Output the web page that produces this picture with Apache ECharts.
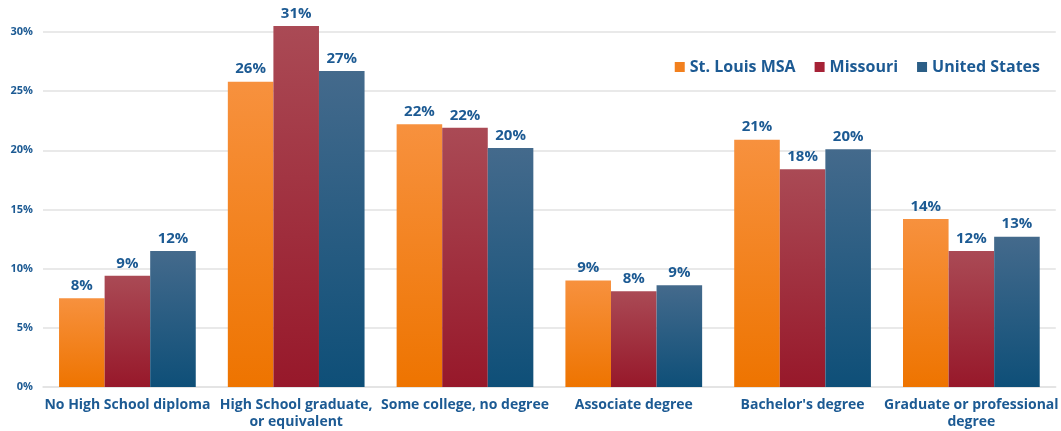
<!DOCTYPE html>
<html>
<head>
<meta charset="utf-8">
<script src="https://cdn.jsdelivr.net/npm/echarts@6/dist/echarts.min.js"></script>
<style>
  html, body { margin: 0; padding: 0; background: #ffffff; }
  #chart { width: 1061px; height: 431px; }
</style>
</head>
<body>
<div id="chart"></div>
<script>
// Educational attainment, share of population (%)
const categories = [
  'No High School diploma',
  'High School graduate,\nor equivalent',
  'Some college, no degree',
  'Associate degree',
  "Bachelor's degree",
  'Graduate or professional\ndegree'
];
const stLouis  = [7.5, 25.8, 22.2, 9.0, 20.9, 14.2];
const missouri = [9.4, 30.5, 21.9, 8.1, 18.4, 11.5];
const usa      = [11.5, 26.7, 20.2, 8.6, 20.1, 12.7];
const seriesNames = ['St. Louis MSA', 'Missouri', 'United States'];
const yTicks = [0, 5, 10, 15, 20, 25, 30];

const FONT = '"Open Sans", "Noto Sans", sans-serif';
const TEXT = '#1c5a93';

function grad(top, bottom) {
  return new echarts.graphic.LinearGradient(0, 0, 0, 1, [
    { offset: 0, color: top },
    { offset: 1, color: bottom }
  ]);
}

const palettes = [
  { top: '#f7913e', bottom: '#ee7400', legend: '#f2801e' },
  { top: '#aa4a55', bottom: '#97182a', legend: '#a62236' },
  { top: '#446a8c', bottom: '#0e4f78', legend: '#2b5e86' }
];

function makeSeries(name, data, p) {
  return {
    name: name,
    type: 'bar',
    data: data,
    clip: false,
    barGap: '0%',
    barCategoryGap: '19%',
    itemStyle: { color: grad(p.top, p.bottom) },
    label: {
      show: true,
      position: 'top',
      distance: 5,
      formatter: (v) => Math.round(v.value) + '%',
      color: TEXT,
      fontFamily: FONT,
      fontWeight: 'bold',
      fontSize: 15
    }
  };
}

const chart = echarts.init(document.getElementById('chart'), null, { renderer: 'canvas' });
chart.setOption({
  animation: false,
  backgroundColor: '#ffffff',
  color: palettes.map(p => p.legend),
  legend: {
    data: seriesNames.map((n, i) => ({ name: n, itemStyle: { color: palettes[i].legend } })),
    right: 16,
    top: 54,
    icon: 'rect',
    itemWidth: 10,
    itemHeight: 10,
    itemGap: 19,
    textStyle: {
      color: TEXT,
      fontFamily: FONT,
      fontWeight: 'bold',
      fontSize: 16
    }
  },
  grid: { left: 43, right: -2, top: 32, bottom: 41 },
  xAxis: {
    type: 'category',
    data: categories,
    axisLine: { show: true, lineStyle: { color: '#e2e2e2', width: 1.5 } },
    axisTick: { show: false },
    axisLabel: {
      interval: 0,
      margin: 10,
      color: TEXT,
      fontFamily: FONT,
      fontWeight: 'bold',
      fontSize: 14,
      lineHeight: 17
    }
  },
  yAxis: {
    type: 'value',
    min: yTicks[0],
    max: yTicks[yTicks.length - 1],
    interval: 5,
    axisLine: { show: false },
    axisTick: { show: false },
    splitLine: { lineStyle: { color: '#e2e2e2', width: 1.5 } },
    axisLabel: {
      margin: 10,
      formatter: '{value}%',
      color: TEXT,
      fontFamily: FONT,
      fontWeight: 'bold',
      fontSize: 11
    }
  },
  series: [
    makeSeries(seriesNames[0], stLouis, palettes[0]),
    makeSeries(seriesNames[1], missouri, palettes[1]),
    makeSeries(seriesNames[2], usa, palettes[2])
  ]
});
</script>
</body>
</html>
